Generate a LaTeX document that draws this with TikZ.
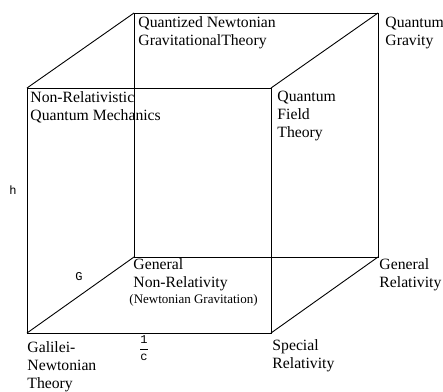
\documentclass[tikz,border=0pt]{standalone}
\usepackage{fontspec}
\setmainfont{Liberation Serif}
\setmonofont{Liberation Mono}
\usetikzlibrary{positioning}
\tikzset{  lbl/.style={anchor=base west,inner sep=0pt,align=left,font=\fontsize{15.7}{17.7}\selectfont},
  small/.style={anchor=base west,inner sep=0pt,font=\fontsize{13}{15}\selectfont},
  axis/.style={inner sep=0pt,font=\fontsize{12}{14}\selectfont\ttfamily} }

\begin{document}
\begin{tikzpicture}[x=1pt,y=-1pt,line width=0.9pt]
   \useasboundingbox (0,0) rectangle (443,391);
   % corners of the cube
   \coordinate (gn) at (27,333);
   \coordinate (sr) at (271,333);
   \coordinate (nq) at (27,88);
   \coordinate (qf) at (271,88);
   \coordinate (nr) at (134,257);
   \coordinate (gr) at (378,257);
   \coordinate (qn) at (134,13);
   \coordinate (qg) at (378,13);
   \draw (gn) -- (sr) -- (qf) -- (nq) -- cycle;
   \draw (nr) -- (gr) -- (qg) -- (qn) -- cycle;
   \draw (gn) -- (nr);
   \draw (sr) -- (gr);
   \draw (nq) -- (qn);
   \draw (qf) -- (qg);
   % labels (anchored at the baseline of the last line)
   \node[lbl] (tqn) at (138,45) {Quantized Newtonian\\GravitationalTheory};
   \node[lbl] (tqg) at (385,45) {Quantum\\Gravity};
   \node[lbl] (tnq) at (30,120) {Non-Relativistic\\Quantum Mechanics};
   \node[lbl] (tqf) at (277,137) {Quantum\\Field\\Theory};
   \node[lbl] (tnr) at (133,287) {General\\Non-Relativity};
   \node[small] (tng) at (129,303) {(Newtonian Gravitation)};
   \node[lbl] (tgr) at (379,287) {General\\Relativity};
   \node[lbl] (tgn) at (27,388) {Galilei-\\Newtonian\\Theory};
   \node[lbl] (tsr) at (272,368) {Special\\Relativity};
   \node[axis,anchor=base] (h) at (13,194) {h};
   \node[axis,anchor=base] (G) at (79,280) {G};
   \node[axis] (c) at (144,348) {$\displaystyle\frac{\mathtt{1}}{\mathtt{c}}$};
\end{tikzpicture}
\end{document}
